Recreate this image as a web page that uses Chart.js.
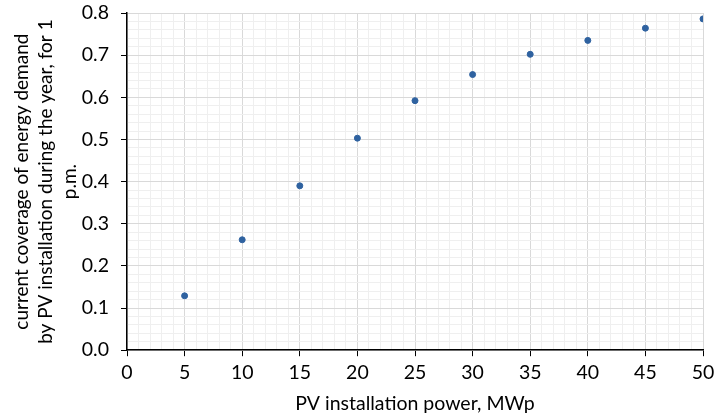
<!DOCTYPE html>
<html>
<head>
<meta charset="utf-8">
<script src="https://cdn.jsdelivr.net/npm/chart.js@4/dist/chart.umd.min.js"></script>
<style>
  html, body { margin: 0; padding: 0; background: #fff; }
  #wrap { width: 714px; height: 419px; }
</style>
</head>
<body>
<div id="wrap"><canvas id="canvas1" width="714" height="419"></canvas></div>
<script>
// PV installation power, MWp
const powerMWp = [5, 10, 15, 20, 25, 30, 35, 40, 45, 50];
// coverage of energy demand at 1 p.m.
const coverage = [0.129, 0.262, 0.390, 0.503, 0.592, 0.654, 0.702, 0.735, 0.764, 0.786];

const xTitle = 'PV installation power, MWp';
const yTitle = ['current coverage of energy demand', 'by PV installation during the year, for 1', 'p.m.'];

const fontFam = "Lato, 'Open Sans', sans-serif";
const majorGrid = '#d9d9d9';
const minorGrid = '#efefef';

window.addEventListener("load", () => {
  const canvas1 = document.getElementById('canvas1');

  new Chart(canvas1, {
    type: 'scatter',
    data: {
      datasets: [{
        label: 'coverage',
        data: powerMWp.map((x, i) => ({ x: x, y: coverage[i] })),
        backgroundColor: '#2f62a0',
        borderColor: '#2f62a0',
        pointRadius: 3,
        pointHoverRadius: 3,
      }]
    },
    options: {
      responsive: false,
      animation: false,
      layout: { padding: { top: 0, right: 0, left: 10, bottom: 4 } },
      plugins: {
        legend: { display: false },
        tooltip: { enabled: false },
      },
      scales: {
        x: {
          type: 'linear',
          min: 0,
          max: 50,
          afterFit: scale => {
            scale.paddingRight = 11;
          },
          grid: {
            color: ctx => (ctx.tick && ctx.tick.value % 5 === 0) ? majorGrid : minorGrid,
            tickColor: ctx => (ctx.tick && ctx.tick.value % 5 === 0) ? '#000' : 'rgba(0,0,0,0)',
            tickLength: 6,
          },
          border: { color: '#000', width: 1.5 },
          ticks: {
            stepSize: 1,
            autoSkip: false,
            maxRotation: 0,
            color: '#000',
            font: { family: fontFam, size: 19.5 },
            padding: 5,
            callback: v => (v % 5 === 0) ? String(v) : '',
          },
          title: {
            display: true,
            text: xTitle,
            color: '#000',
            font: { family: fontFam, size: 19.5 },
            padding: { top: 2, bottom: 0 },
          }
        },
        y: {
          min: 0,
          max: 0.8,
          afterFit: scale => {
            scale.width = 117;
            scale.paddingTop = 13;
          },
          grid: {
            color: ctx => (ctx.tick && Math.round(ctx.tick.value * 100) % 10 === 0) ? majorGrid : minorGrid,
            tickColor: ctx => (ctx.tick && Math.round(ctx.tick.value * 100) % 10 === 0) ? '#000' : 'rgba(0,0,0,0)',
            tickLength: 6,
          },
          border: { color: '#000', width: 1.5 },
          ticks: {
            stepSize: 0.02,
            autoSkip: false,
            color: '#000',
            font: { family: fontFam, size: 19.5 },
            padding: 12,
            callback: v => (Math.round(v * 100) % 10 === 0) ? v.toFixed(1) : '',
          },
          title: {
            display: true,
            text: yTitle,
            color: '#000',
            font: { family: fontFam, size: 19, lineHeight: 1.25 },
            padding: { top: 0, bottom: 6 },
          }
        }
      }
    }
  });
});
</script>
</body>
</html>
